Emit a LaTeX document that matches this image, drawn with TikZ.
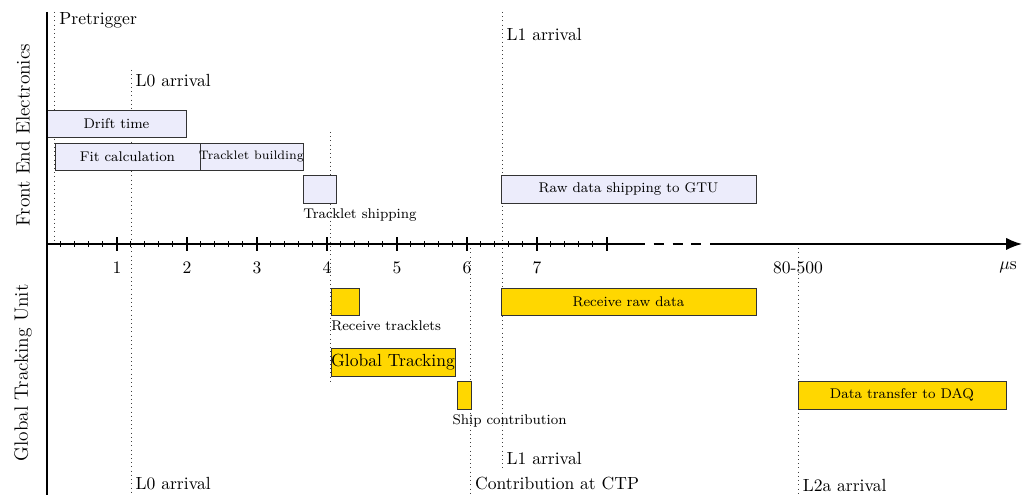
\documentclass[tikz,border=0pt]{standalone}
\usepackage{tikz}
\definecolor{feblue}{RGB}{236,236,251}
\definecolor{gtugold}{RGB}{255,215,0}
\usetikzlibrary{arrows.meta}

\begin{document}
\begin{tikzpicture}[
    x=1.4cm, y=1cm,
    febox/.style={draw=black!80, fill=feblue},
    gtubox/.style={draw=black!80, fill=gtugold},
    marker/.style={dotted, black!75},
    tag/.style={right, inner sep=2.5pt},
    boxtext/.style={font=\footnotesize, inner sep=0pt},
    note/.style={font=\footnotesize, anchor=north west, inner sep=1pt, xshift=-1pt, yshift=-2pt},
    rowlabel/.style={rotate=90, font=\fontsize{11}{13}\selectfont},
    axis/.style={line width=1pt}
]
    \useasboundingbox (-0.671,-5.02) rectangle (13.93,4.88);

    % Trigger and timing markers
    \draw[marker] (0.11,4.64) -- (0.11,0);
    \draw[marker] (1.2,3.48) -- (1.2,-5.02);
    \draw[marker] (4.05,2.24) -- (4.05,-2.78);
    \draw[marker] (6.05,0) -- (6.05,-5.02);
    \draw[marker] (6.5,4.64) -- (6.5,-4.52);
    \draw[marker] (10.73,0) -- (10.73,-5.02);

    \node[tag] (pretrig) at (0.11,4.48) {Pretrigger};
    \node[tag] (lzerotop) at (1.2,3.26) {L0 arrival};
    \node[tag] (lonetop) at (6.5,4.18) {L1 arrival};
    \node[tag] (lonebot) at (6.5,-4.30) {L1 arrival};
    \node[tag] (lzerobot) at (1.2,-4.80) {L0 arrival};
    \node[tag] (ctp) at (6.05,-4.80) {Contribution at CTP};
    \node[tag] (ltwoa) at (10.73,-4.84) {L2a arrival};

    % Front end electronics
    \draw[febox] (0,2.14) rectangle (1.986,2.68) node[midway, boxtext] (drift) {Drift time};
    \draw[febox] (0.114,1.48) rectangle (2.186,2.02) node[midway, boxtext] (fit) {Fit calculation};
    \draw[febox] (2.186,1.48) rectangle (3.657,2.02) node[midway, boxtext, font=\scriptsize] (build) {Tracklet building};
    \draw[febox] (3.657,0.82) rectangle (4.129,1.38);
    \node[note] (tship) at (3.657,0.82) {Tracklet shipping};
    \draw[febox] (6.486,0.82) rectangle (10.13,1.38) node[midway, boxtext] (rawship) {Raw data shipping to GTU};

    % Global tracking unit
    \draw[gtubox] (4.057,-1.42) rectangle (4.457,-0.88);
    \node[note] (recvtrk) at (4.057,-1.42) {Receive tracklets};
    \draw[gtubox] (6.486,-1.42) rectangle (10.13,-0.88) node[midway, boxtext] (recvraw) {Receive raw data};
    \draw[gtubox] (4.057,-2.64) rectangle (5.83,-2.08) node[midway, inner sep=0pt] (gtrack) {Global Tracking};
    \draw[gtubox] (5.857,-3.30) rectangle (6.057,-2.74);
    \node[note] (shipcon) at (5.79,-3.30) {Ship contribution};
    \draw[gtubox] (10.73,-3.30) rectangle (13.7,-2.74) node[midway, boxtext] (daq) {Data transfer to DAQ};

    % Time axis
    \draw[axis] (0,4.64) -- (0,-5.02);
    \draw[axis] (0,0) -- (8.4,0);
    \draw[line width=0.8pt, dash pattern=on 5.7pt off 5pt] (8.4,0) -- (9.52,0);
    \draw[axis, -{Latex[length=9pt,width=7pt]}] (9.52,0) -- (13.93,0);
    \foreach \i in {1,...,40}
        \draw[semithick] (\i/5,-0.06) -- (\i/5,0.06);
    \foreach \i in {1,...,8}
        \draw[line width=1pt] (\i,-0.14) -- (\i,0.14);
    \foreach \i in {1,...,7}
        \node (tick\i) at (\i,-0.47) {\i};
    \node (late) at (10.73,-0.47) {80-500};
    \node (unit) at (13.73,-0.47) {$\mu$s};

    % Row labels
    \node[rowlabel] (fee) at (-0.343,2.18) {Front End Electronics};
    \node[rowlabel] (gtu) at (-0.343,-2.58) {Global Tracking Unit};
\end{tikzpicture}
\end{document}
